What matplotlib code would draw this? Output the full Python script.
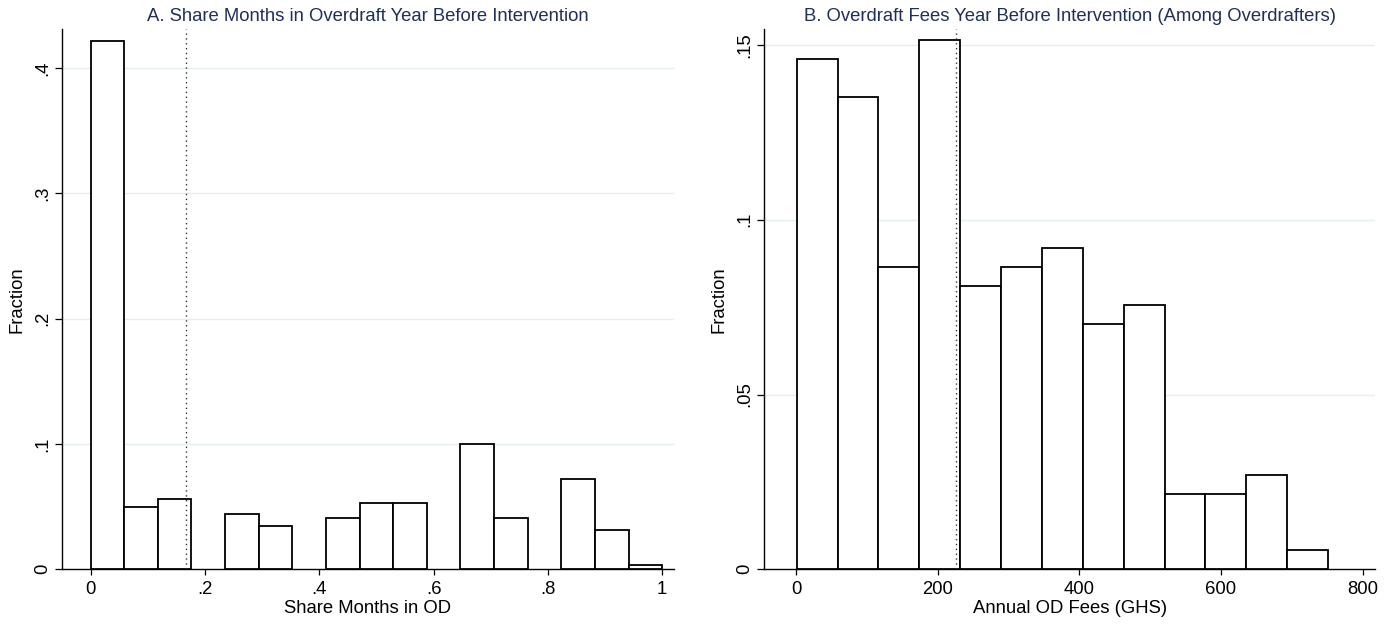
import matplotlib
matplotlib.use("Agg")
import matplotlib.pyplot as plt
import numpy as np

plt.rcParams['font.family'] = ['Liberation Sans', 'DejaVu Sans']

# Panel A: share of months in overdraft (17 bins on [0, 1])
share_bin_start = 0.0
share_bin_width = 1.0 / 17
share_frac = [0.4219, 0.0500, 0.0563, 0.0, 0.0438, 0.0344, 0.0, 0.0406, 0.0531,
              0.0531, 0.0, 0.1000, 0.0406, 0.0, 0.0719, 0.0313, 0.0031]
share_cutoff = 1.0 / 6
share_ticks = [0, 0.2, 0.4, 0.6, 0.8, 1.0]
share_ticklabels = ['0', '.2', '.4', '.6', '.8', '1']
share_yticks = [0, 0.1, 0.2, 0.3, 0.4]
share_yticklabels = ['0', '.1', '.2', '.3', '.4']

# Panel B: annual overdraft fees among overdrafters (13 bins)
fee_bin_start = 1.0
fee_bin_width = 57.7
fee_frac = [0.1459, 0.1351, 0.0865, 0.1514, 0.0811, 0.0865, 0.0919,
            0.0703, 0.0757, 0.0216, 0.0216, 0.0270, 0.0054]
fee_cutoff = 226
fee_ticks = [0, 200, 400, 600, 800]
fee_ticklabels = ['0', '200', '400', '600', '800']
fee_yticks = [0, 0.05, 0.10, 0.15]
fee_yticklabels = ['0', '.05', '.1', '.15']

TITLE_COLOR = '#1f2f57'
GRID_COLOR = '#e4edf0'
FS = 13.3

fig = plt.figure(figsize=(13.85, 6.26), dpi=100)
axA = fig.add_axes([62 / 1385, 56.7 / 626, 611.6 / 1385, 540 / 626])
axB = fig.add_axes([764.3 / 1385, 56.7 / 626, 610.7 / 1385, 540 / 626])


def draw_panel(ax, start, width, fracs, cutoff, xlim, ylim, xt, xtl, yt, ytl,
               title, xlabel):
    fracs = np.array(fracs)
    lefts = start + width * np.arange(len(fracs))
    keep = fracs > 0
    ax.bar(lefts[keep], fracs[keep], width=width, align='edge',
           color='white', edgecolor='black', linewidth=1.3, zorder=3)
    ax.axvline(cutoff, color='#333333', linestyle=(0, (1, 2.5)),
               linewidth=1.0, zorder=4)
    ax.set_xlim(*xlim)
    ax.set_ylim(*ylim)
    ax.set_xticks(xt)
    ax.set_xticklabels(xtl)
    ax.set_yticks(yt)
    ax.set_yticklabels(ytl, rotation=90, va='center')
    for y in yt[1:]:
        ax.axhline(y, color=GRID_COLOR, linewidth=1.0, zorder=1)
    for side in ['top', 'right']:
        ax.spines[side].set_visible(False)
    ax.spines['left'].set_linewidth(1.0)
    ax.spines['bottom'].set_linewidth(1.0)
    ax.tick_params(axis='both', width=0.9, labelsize=FS, colors='black')
    ax.tick_params(axis='y', length=5, pad=3)
    ax.tick_params(axis='x', length=4.2, pad=4.5)
    ax.set_ylabel('Fraction', fontsize=FS, labelpad=6)
    ax.set_xlabel(xlabel, fontsize=FS, labelpad=1.5)
    ax.set_title(title, fontsize=FS, color=TITLE_COLOR, pad=6)


draw_panel(axA, share_bin_start, share_bin_width, share_frac, share_cutoff,
           (-0.050, 1.020), (0, 0.431), share_ticks, share_ticklabels,
           share_yticks, share_yticklabels,
           'A. Share Months in Overdraft Year Before Intervention',
           'Share Months in OD')

draw_panel(axB, fee_bin_start, fee_bin_width, fee_frac, fee_cutoff,
           (-44.8, 817.5), (0, 0.1545), fee_ticks, fee_ticklabels,
           fee_yticks, fee_yticklabels,
           'B. Overdraft Fees Year Before Intervention (Among Overdrafters)',
           'Annual OD Fees (GHS)')

fig.savefig('out.png', dpi=100)
